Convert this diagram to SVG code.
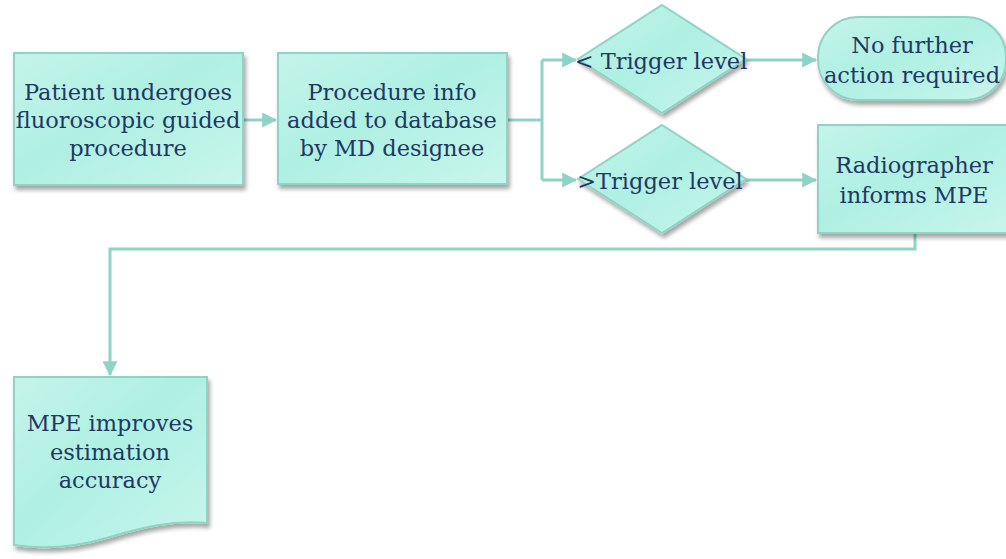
<svg xmlns="http://www.w3.org/2000/svg" width="1006" height="559" viewBox="0 0 1006 559">
<defs>
<linearGradient id="g" x1="0" y1="0" x2="1" y2="1">
<stop offset="0" stop-color="#c6f3ea"/>
<stop offset="0.45" stop-color="#aef0e2"/>
<stop offset="1" stop-color="#c9f5ec"/>
</linearGradient>
<filter id="sh" x="-10%" y="-10%" width="130%" height="130%">
<feGaussianBlur in="SourceAlpha" stdDeviation="2"/>
<feOffset dx="2" dy="4" result="b"/>
<feComponentTransfer><feFuncA type="linear" slope="0.35"/></feComponentTransfer>
<feMerge><feMergeNode/><feMergeNode in="SourceGraphic"/></feMerge>
</filter>
<marker id="ah" markerWidth="5" markerHeight="5" refX="4.6" refY="2.5" orient="auto" markerUnits="strokeWidth">
<path d="M0,0 L5,2.5 L0,5 Z" fill="#8fd3c6"/>
</marker>
</defs>
<style>
.n{fill:url(#g);stroke:#8fd3c6;stroke-width:2;filter:url(#sh)}
.t{font-family:"DejaVu Serif","Liberation Serif",serif;font-size:22.5px;fill:#1f3864;text-anchor:middle}
.c{fill:none;stroke:#8fd3c6;stroke-width:3}
</style>
<g id="connectors">
<path class="c" d="M243,120 L276,120" marker-end="url(#ah)"/>
<path class="c" d="M507,120 L542,120"/>
<path class="c" d="M542,60 L542,180"/>
<path class="c" d="M542,60 L576,60" marker-end="url(#ah)"/>
<path class="c" d="M542,180 L576,180" marker-end="url(#ah)"/>
<path class="c" d="M745,60 L816,60" marker-end="url(#ah)"/>
<path class="c" d="M745,180 L816,180" marker-end="url(#ah)"/>
<path class="c" d="M915,233 L915,249 L110,249 L110,375" marker-end="url(#ah)"/>
</g>
<g id="n1">
<rect class="n" x="14" y="53" width="229" height="132"/>
<text class="t" x="128" y="100">Patient undergoes</text>
<text class="t" x="128" y="128">fluoroscopic guided</text>
<text class="t" x="128" y="156">procedure</text>
</g>
<g id="n2">
<rect class="n" x="278" y="53" width="229" height="131"/>
<text class="t" x="392" y="100">Procedure info</text>
<text class="t" x="392" y="128">added to database</text>
<text class="t" x="392" y="156">by MD designee</text>
</g>
<g id="d1">
<polygon class="n" points="662,5 746,59 662,113 578,59"/>
<text class="t" x="661" y="69">&lt; Trigger level</text>
</g>
<g id="d2">
<polygon class="n" points="662,125 746,179 662,233 578,179"/>
<text class="t" x="660" y="189">&gt;Trigger level</text>
</g>
<g id="n3">
<rect class="n" x="818" y="17" width="188" height="83" rx="40" ry="40"/>
<text class="t" x="912" y="53">No further</text>
<text class="t" x="912" y="83">action required</text>
</g>
<g id="n4">
<rect class="n" x="818" y="125" width="194" height="108"/>
<text class="t" x="914" y="173">Radiographer</text>
<text class="t" x="914" y="203">informs MPE</text>
</g>
<g id="n5">
<path class="n" d="M14,377 L207,377 L207,523 C170,520 140,528 110,537 C80,546 45,550 14,545 Z"/>
<text class="t" x="110" y="431">MPE improves</text>
<text class="t" x="110" y="460">estimation</text>
<text class="t" x="110" y="488">accuracy</text>
</g>
</svg>
